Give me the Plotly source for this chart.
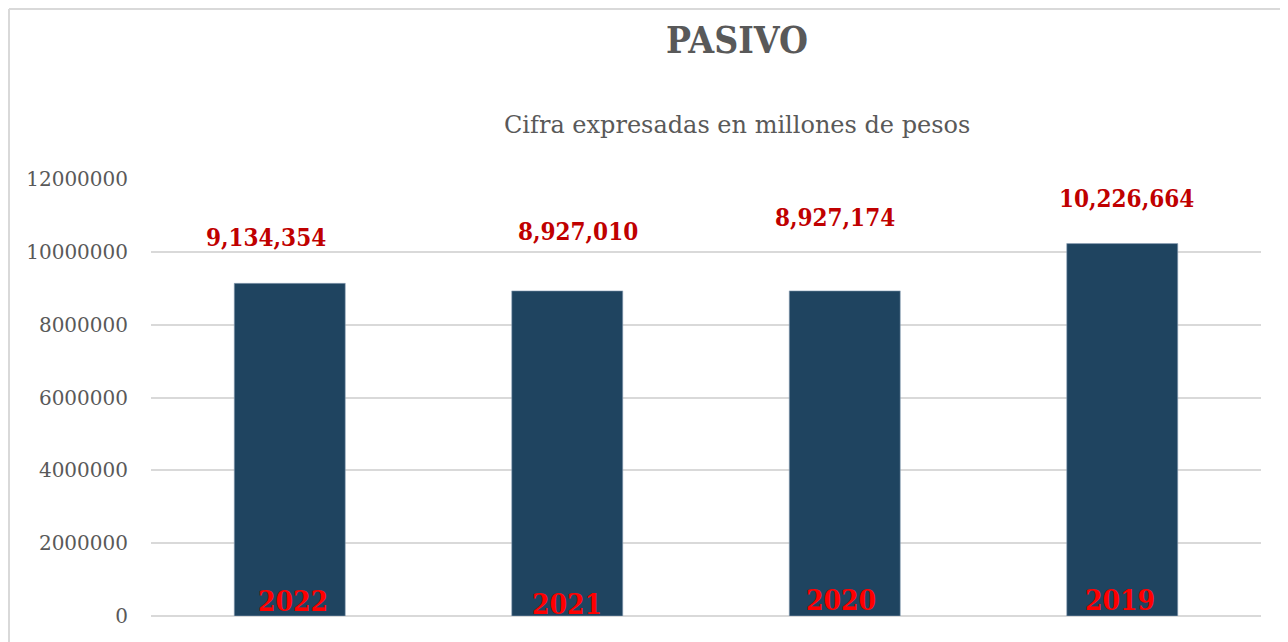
import plotly.graph_objects as go

years = ["2022", "2021", "2020", "2019"]
values = [9134354, 8927010, 8927174, 10226664]
value_labels = ["9,134,354", "8,927,010", "8,927,174", "10,226,664"]
label_shift = [29, 43, 57, 29]
label_xshift = [-24, 11, -10, 4]
year_shift = [-4, -7, -3, -3]
year_xshift = [3, 0, -4, -2]
tick_vals = [0, 2000000, 4000000, 6000000, 8000000, 10000000, 12000000]
tick_text = ["0", "2000000", "4000000", "6000000", "8000000", "10000000", "12000000"]

# page pixel layout (browser body adds 8px offset)
OFF = 8
PX_L, PX_R, PX_T, PX_B = 151, 1261, 179, 616
PW, PH = PX_R - PX_L, PX_B - PX_T

xpos = list(range(len(years)))

fig = go.Figure()
fig.add_trace(go.Bar(
    x=xpos, y=values, width=0.4,
    marker=dict(color="#1F4460", line=dict(color="#8FA3B8", width=0.6)),
    customdata=years, hovertemplate="%{customdata}: %{y}<extra></extra>",
))

for i, (v, lab, sh, xs) in enumerate(zip(values, value_labels, label_shift, label_xshift)):
    fig.add_annotation(x=i, y=v, text="<b>" + lab + "</b>", showarrow=False, yanchor="bottom",
                       yshift=sh, xshift=xs,
                       font=dict(family="DejaVu Serif Condensed", size=24, color="#C00000"))
for i, (yr, sh, xs) in enumerate(zip(years, year_shift, year_xshift)):
    fig.add_annotation(x=i, y=0, text="<b>" + yr + "</b>", showarrow=False, yanchor="bottom",
                       yshift=sh, xshift=xs,
                       font=dict(family="DejaVu Serif Condensed", size=28, color="#FF0000"))

fig.add_annotation(xref="paper", yref="paper", x=(737 - PX_L) / PW, y=(PX_B - 40) / PH,
                   text="<b>PASIVO</b>", showarrow=False, xanchor="center", yanchor="middle",
                   font=dict(family="DejaVu Serif Condensed", size=37, color="#595959"))
fig.add_annotation(xref="paper", yref="paper", x=(737 - PX_L) / PW, y=(PX_B - 125) / PH,
                   text="Cifra expresadas en millones de pesos", showarrow=False,
                   xanchor="center", yanchor="middle",
                   font=dict(family="DejaVu Serif", size=24, color="#595959"))

# outer chart border (left and top edges visible)
bx = (9 - PX_L) / PW
by = (PX_B - 9) / PH
fig.add_shape(type="line", xref="paper", yref="paper", x0=bx, x1=bx, y0=-0.2, y1=by,
              line=dict(color="#D9D9D9", width=2))
fig.add_shape(type="line", xref="paper", yref="paper", x0=bx, x1=1.2, y0=by, y1=by,
              line=dict(color="#D9D9D9", width=2))

fig.update_layout(
    width=1288, height=642,
    margin=dict(l=PX_L - OFF, r=1288 - (PX_R - OFF), t=PX_T - OFF, b=642 - (PX_B - OFF)),
    paper_bgcolor="white", plot_bgcolor="white",
    showlegend=False,
    xaxis=dict(range=[-0.5, len(years) - 0.5], showticklabels=False, showgrid=False,
               zeroline=False, showline=False, ticks=""),
    yaxis=dict(range=[0, 12000000], tickvals=tick_vals, ticktext=tick_text,
               showgrid=True, gridcolor="#D9D9D9", gridwidth=1.5,
               zeroline=True, zerolinecolor="#D9D9D9", zerolinewidth=2,
               ticks="", ticklabelstandoff=22,
               tickfont=dict(family="DejaVu Serif", size=20, color="#595959")),
)

fig.write_html("out.html")
